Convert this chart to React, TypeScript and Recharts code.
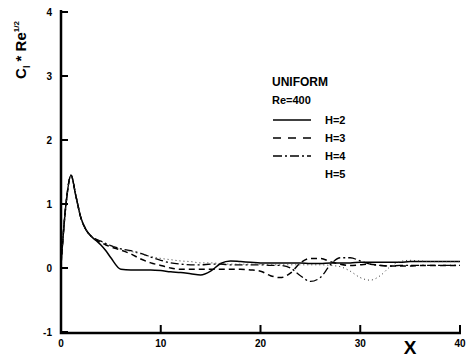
import React from 'react';
import { LineChart, Line, XAxis, YAxis } from 'recharts';

// streamwise position
const xs = [
  0, 0.5, 1, 1.5, 2, 2.5, 3, 3.5, 4, 4.5, 5, 6, 7, 8, 9, 10, 11, 12, 13, 14, 15,
  16, 17, 18, 19, 20, 21, 22, 23, 24, 25, 26, 27, 28, 29, 30, 31, 32, 33, 34, 35,
  36, 37, 38, 39, 40,
];

// Cl * Re^(1/2) for each channel height
const h2 = [
  0.05, 1.0, 1.45, 1.12, 0.78, 0.6, 0.5, 0.43, 0.36, 0.27, 0.16, -0.02, -0.03, -0.03, -0.03, -0.04, -0.06, -0.07, -0.09, -0.11, -0.05,
  0.07, 0.11, 0.1, 0.09, 0.08, 0.08, 0.08, 0.08, 0.08, 0.07, 0.07, 0.08, 0.08, 0.08, 0.09, 0.09, 0.09, 0.09, 0.09, 0.1,
  0.1, 0.1, 0.1, 0.1, 0.1,
];
const h3 = [
  0.05, 1.0, 1.45, 1.12, 0.78, 0.6, 0.5, 0.44, 0.4, 0.36, 0.33, 0.28, 0.22, 0.14, 0.08, 0.04, 0.0, -0.02, -0.02, -0.02, -0.02,
  -0.02, -0.02, -0.02, -0.03, -0.05, -0.12, -0.15, -0.08, 0.08, 0.15, 0.15, 0.1, 0.06, 0.04, 0.05, 0.06, 0.04, 0.03, 0.03, 0.03,
  0.04, 0.04, 0.04, 0.04, 0.04,
];
const h4 = [
  0.05, 1.0, 1.45, 1.12, 0.78, 0.6, 0.5, 0.45, 0.42, 0.38, 0.35, 0.3, 0.27, 0.23, 0.17, 0.12, 0.08, 0.06, 0.05, 0.05, 0.06,
  0.06, 0.05, 0.05, 0.05, 0.05, 0.04, 0.04, 0.0, -0.12, -0.21, -0.15, 0.05, 0.16, 0.16, 0.11, 0.06, 0.04, 0.03, 0.04, 0.04,
  0.04, 0.04, 0.04, 0.04, 0.04,
];
const h5 = [
  0.05, 1.0, 1.45, 1.12, 0.78, 0.6, 0.5, 0.45, 0.42, 0.38, 0.35, 0.3, 0.26, 0.22, 0.18, 0.15, 0.13, 0.11, 0.1, 0.08, 0.08,
  0.07, 0.06, 0.06, 0.06, 0.06, 0.05, 0.05, 0.05, 0.05, 0.05, 0.05, 0.04, 0.02, -0.05, -0.15, -0.19, -0.12, 0.02, 0.1, 0.12,
  0.11, 0.1, 0.1, 0.1, 0.1,
];

const yTicks = [-1, 0, 1, 2, 3, 4];
const xTicks = [0, 10, 20, 30, 40];

const data = xs.map((x, i) => ({ x, h2: h2[i], h3: h3[i], h4: h4[i], h5: h5[i] }));

const FONT = '"Liberation Sans", Arial, sans-serif';

// plot box, shared by the chart margins and the frame overlay
const W = 466;
const H = 359;
const M = { top: 12, right: 6, left: 21, bottom: 3 };
const Y_AXIS_W = 40;
const X_AXIS_H = 24;
const PLOT = {
  left: M.left + Y_AXIS_W,
  right: W - M.right,
  top: M.top,
  bottom: H - M.bottom - X_AXIS_H,
};
const X_DOMAIN: [number, number] = [0, 40];
const Y_DOMAIN: [number, number] = [-1, 4];

const px = (v: number) => PLOT.left + ((v - X_DOMAIN[0]) / (X_DOMAIN[1] - X_DOMAIN[0])) * (PLOT.right - PLOT.left);
const py = (v: number) => PLOT.bottom - ((v - Y_DOMAIN[0]) / (Y_DOMAIN[1] - Y_DOMAIN[0])) * (PLOT.bottom - PLOT.top);

const YTick = (props: any) => {
  const { x, y, payload } = props;
  return (
    <text x={x - 9} y={y} dy={4} textAnchor="end" fontSize={10} fontWeight="bold" fontFamily={FONT} fill="#000">
      {payload.value}
    </text>
  );
};

const legendRows = [
  { name: 'H=2', dash: undefined },
  { name: 'H=3', dash: '8 7' },
  { name: 'H=4', dash: '9 3 2 3' },
  { name: 'H=5', dash: null },
];

// frame with inward ticks, axis titles and the case annotation
const Annotations = () => (
  <svg width={W} height={H} style={{ position: 'absolute', left: 0, top: 0, pointerEvents: 'none' }}>
    <g stroke="#000" fill="none">
      <path d={`M${PLOT.left},${PLOT.top - 2}V${PLOT.bottom + 1}H${PLOT.right + 1}`} strokeWidth={2.5} />
      {yTicks.map((t) => (
        <path key={`y${t}`} d={`M${PLOT.left},${py(t)}h7`} strokeWidth={2} />
      ))}
      {xTicks.map((t) => (
        <path key={`x${t}`} d={`M${px(t)},${PLOT.bottom}v-7`} strokeWidth={2} />
      ))}
    </g>
    <g fontFamily={FONT} fontWeight="bold" fill="#000">
      <text transform="translate(26, 50) rotate(-90)" textAnchor="middle" fontSize={15}>
        C<tspan dy={4} fontSize={9}>l</tspan>
        <tspan dy={-4}> * Re</tspan>
        <tspan dy={-7} fontSize={8}>1/2</tspan>
      </text>
      <text x={410} y={354} textAnchor="middle" fontSize={19}>X</text>
      <text x={272} y={86} fontSize={12}>UNIFORM</text>
      <text x={272} y={104} fontSize={11}>Re=400</text>
      {legendRows.map((r, i) => {
        const y = 120 + i * 18;
        return (
          <g key={r.name}>
            {r.dash !== null && (
              <line x1={273} x2={311} y1={y} y2={y} stroke="#000" strokeWidth={1.3} strokeDasharray={r.dash} />
            )}
            <text x={325} y={y + 4} fontSize={11}>{r.name}</text>
          </g>
        );
      })}
    </g>
  </svg>
);

export default function App() {
  return (
    <div style={{ position: 'absolute', left: 0, top: 0, width: W, height: H, background: '#fff' }}>
      <LineChart width={W} height={H} data={data} margin={M}>
        <XAxis
          dataKey="x"
          type="number"
          domain={X_DOMAIN}
          ticks={xTicks}
          interval={0}
          height={X_AXIS_H}
          tickLine={false}
          axisLine={false}
          tick={{ fontSize: 10, fontWeight: 'bold', fontFamily: FONT, fill: '#000' }}
        />
        <YAxis
          type="number"
          domain={Y_DOMAIN}
          ticks={yTicks}
          interval={0}
          width={Y_AXIS_W}
          tickSize={0}
          tickMargin={0}
          tickLine={false}
          axisLine={false}
          tick={<YTick />}
        />
        <Line type="monotone" dataKey="h2" stroke="#000" strokeWidth={1.5} dot={false} isAnimationActive={false} />
        <Line type="monotone" dataKey="h3" stroke="#000" strokeWidth={1.5} strokeDasharray="6 4" dot={false} isAnimationActive={false} />
        <Line type="monotone" dataKey="h4" stroke="#000" strokeWidth={1.3} strokeDasharray="8 3 2 3" dot={false} isAnimationActive={false} />
        <Line type="monotone" dataKey="h5" stroke="#333" strokeWidth={1} strokeDasharray="1 3" dot={false} isAnimationActive={false} />
      </LineChart>
      <Annotations />
    </div>
  );
}
